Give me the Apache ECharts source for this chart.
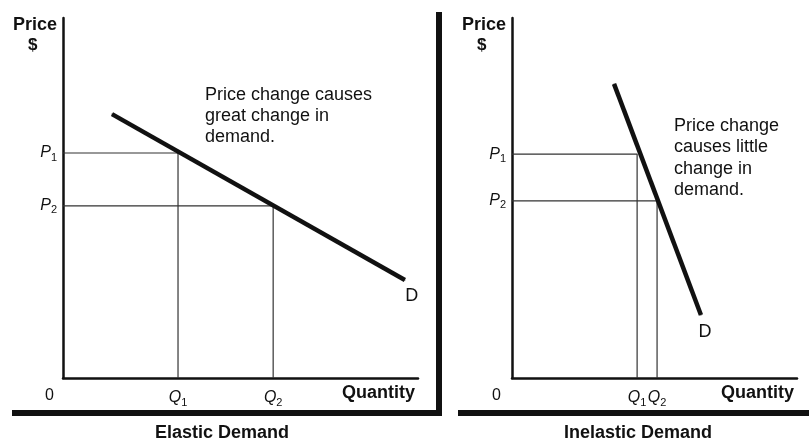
<!DOCTYPE html>
<html>
<head>
<meta charset="utf-8">
<script src="https://cdn.jsdelivr.net/npm/echarts@6/dist/echarts.min.js"></script>
<style>
  html, body { margin: 0; padding: 0; background: #fff; }
  #main { width: 809px; height: 440px; }
</style>
</head>
<body>
<div id="main"></div>
<script>
// elastic panel (axis units 0..100)
var elasticDemand = [[13.8, 73.3], [96.3, 27.2]];
var elasticP = [62.5, 47.8];
var elasticQ = [32.4, 59.2];
// inelastic panel
var inelasticDemand = [[35.8, 81.7], [66.3, 17.5]];
var inelasticP = [62.2, 49.2];
var inelasticQ = [43.9, 50.9];

var subLabels = ['1', '2'];
var FONT = '"Liberation Sans", Arial, sans-serif';

var rich = {
    i: { fontFamily: FONT, fontSize: 16, fontStyle: 'italic', color: '#111' },
    s: { fontFamily: FONT, fontSize: 11, color: '#111', padding: [9, 0, 0, 0] }
};

function axisPair(gridIndex, Q, P) {
    var x = {
        type: 'value', gridIndex: gridIndex, min: 0, max: 100,
        axisLine: { show: true, onZero: false, lineStyle: { color: '#111', width: 2.5 } },
        axisTick: { show: false },
        splitLine: { show: false },
        axisLabel: {
            customValues: Q,
            margin: 10,
            formatter: function (v) {
                return '{i|Q}{s|' + subLabels[Q.indexOf(v)] + '}';
            },
            rich: rich
        }
    };
    var y = {
        type: 'value', gridIndex: gridIndex, min: 0, max: 100,
        axisLine: { show: true, onZero: false, lineStyle: { color: '#111', width: 2.5 } },
        axisTick: { show: false },
        splitLine: { show: false },
        axisLabel: {
            customValues: P,
            margin: 6,
            formatter: function (v) {
                return '{i|P}{s|' + subLabels[P.indexOf(v)] + '}';
            },
            rich: rich
        }
    };
    return [x, y];
}

function dropSeries(idx, Q, P) {
    var out = [];
    for (var k = 0; k < Q.length; k++) {
        out.push({
            type: 'line', xAxisIndex: idx, yAxisIndex: idx,
            data: [[0, P[k]], [Q[k], P[k]], [Q[k], 0]],
            symbol: 'none', silent: true, z: 2,
            lineStyle: { color: '#333', width: 1.2 }
        });
    }
    return out;
}

function demandSeries(idx, pts, offset, dist) {
    return {
        type: 'line', xAxisIndex: idx, yAxisIndex: idx,
        data: [pts[0], {
            value: pts[1],
            label: {
                show: true, formatter: 'D', position: 'bottom', distance: dist, offset: offset,
                fontFamily: FONT, fontSize: 18, color: '#111'
            }
        }],
        symbol: 'circle', symbolSize: 1, z: 5,
        itemStyle: { color: '#111' },
        lineStyle: { color: '#111', width: 4.5 }
    };
}

var a0 = axisPair(0, elasticQ, elasticP);
var a1 = axisPair(1, inelasticQ, inelasticP);
var boldText = { fontFamily: FONT, fontSize: 18, fontWeight: 'bold', color: '#111' };

var option = {
    backgroundColor: '#fff',
    animation: false,
    title: [
        { text: 'Elastic Demand', left: 217, top: 419, textAlign: 'center', textStyle: boldText },
        { text: 'Inelastic Demand', left: 633, top: 419, textAlign: 'center', textStyle: boldText }
    ],
    grid: [
        { left: 63, top: 18, width: 355, height: 360 },
        { left: 512, top: 18, width: 285, height: 360 }
    ],
    xAxis: [a0[0], a1[0]],
    yAxis: [a0[1], a1[1]],
    series: [].concat(
        dropSeries(0, elasticQ, elasticP),
        dropSeries(1, inelasticQ, inelasticP),
        [demandSeries(0, elasticDemand, [7, 0], 6), demandSeries(1, inelasticDemand, [4, 0], 8)]
    ),
    graphic: [
        // frame bars
        { type: 'polyline', shape: { points: [[12, 413], [439, 413], [439, 12]] },
          style: { stroke: '#111', lineWidth: 6, fill: null } },
        { type: 'line', shape: { x1: 458, y1: 413, x2: 809, y2: 413 },
          style: { stroke: '#111', lineWidth: 6 } },
        // axis names
        { type: 'text', left: 13, top: 16, style: { text: 'Price', fontFamily: FONT, fontSize: 18, fontWeight: 'bold', fill: '#111' } },
        { type: 'text', left: 28, top: 37, style: { text: '$', fontFamily: FONT, fontSize: 17, fontWeight: 'bold', fill: '#111' } },
        { type: 'text', left: 462, top: 16, style: { text: 'Price', fontFamily: FONT, fontSize: 18, fontWeight: 'bold', fill: '#111' } },
        { type: 'text', left: 477, top: 37, style: { text: '$', fontFamily: FONT, fontSize: 17, fontWeight: 'bold', fill: '#111' } },
        { type: 'text', left: 45, top: 388, style: { text: '0', fontFamily: FONT, fontSize: 16, fill: '#111' } },
        { type: 'text', left: 492, top: 388, style: { text: '0', fontFamily: FONT, fontSize: 16, fill: '#111' } },
        { type: 'text', right: 809 - 415, top: 384, style: { text: 'Quantity', fontFamily: FONT, fontSize: 18, fontWeight: 'bold', fill: '#111' } },
        { type: 'text', right: 809 - 794, top: 384, style: { text: 'Quantity', fontFamily: FONT, fontSize: 18, fontWeight: 'bold', fill: '#111' } },
        // annotations
        { type: 'text', left: 205, top: 85, style: { text: 'Price change causes\ngreat change in\ndemand.', fontFamily: FONT, fontSize: 18, lineHeight: 21, fill: '#111' } },
        { type: 'text', left: 674, top: 115, style: { text: 'Price change\ncauses little\nchange in\ndemand.', fontFamily: FONT, fontSize: 18, lineHeight: 21.5, fill: '#111' } }
    ]
};

var chart = echarts.init(document.getElementById('main'));
chart.setOption(option);
</script>
</body>
</html>
